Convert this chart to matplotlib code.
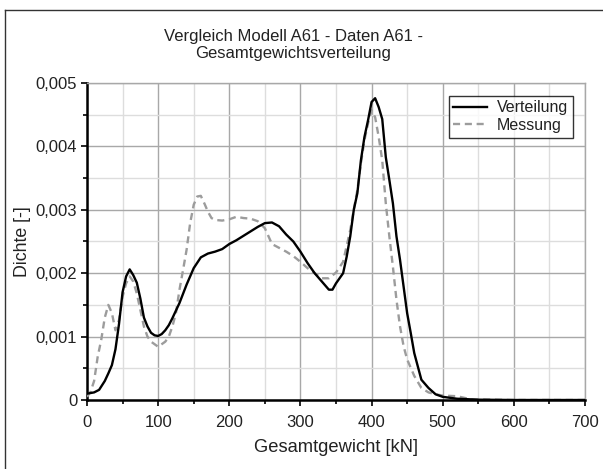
import matplotlib
matplotlib.use("Agg")
import matplotlib.pyplot as plt
from matplotlib.lines import Line2D
from matplotlib.ticker import FuncFormatter, MultipleLocator

plt.rcParams["font.family"] = ["Liberation Sans", "DejaVu Sans"]

# Verteilung (model)
vert_x = [0, 10, 17, 25, 30, 35, 40, 45, 50, 55, 60, 65, 70, 75, 80, 85, 90, 95,
          100, 105, 110, 115, 120, 130, 140, 150, 160, 170, 180, 190, 200, 210,
          220, 230, 240, 250, 260, 270, 280, 290, 300, 310, 320, 330, 340, 345,
          350, 360, 365, 370, 375, 380, 385, 390, 395, 400, 405, 410, 415, 420,
          425, 430, 435, 440, 445, 450, 455, 460, 465, 470, 480, 490, 500, 520,
          550, 600, 700]
vert_y = [0.0001, 0.00012, 0.00016, 0.0003, 0.00042, 0.00055, 0.0008, 0.0012,
          0.0017, 0.00195, 0.00206, 0.00197, 0.00185, 0.0016, 0.0013, 0.00116,
          0.00106, 0.00102, 0.00101, 0.00104, 0.0011, 0.00118, 0.00129, 0.00153,
          0.00182, 0.00208, 0.00225, 0.00231, 0.00234, 0.00238, 0.00246, 0.00252,
          0.00259, 0.00266, 0.00273, 0.00279, 0.0028, 0.00274, 0.00261, 0.0025,
          0.00234, 0.00216, 0.002, 0.00187, 0.00174, 0.00174, 0.00184, 0.002,
          0.00226, 0.00258, 0.003, 0.00326, 0.00378, 0.00415, 0.00441, 0.0047,
          0.00476, 0.00462, 0.00443, 0.00383, 0.00347, 0.0031, 0.00258, 0.00221,
          0.00179, 0.00137, 0.00106, 0.00074, 0.00053, 0.00032, 0.00019, 0.00009,
          0.00005, 0.00002, 0.000005, 0.0, 0.0]

# Messung (measured data)
mess_x = [0, 5, 10, 15, 20, 25, 30, 35, 40, 45, 50, 55, 60, 65, 70, 75, 80, 85,
          90, 100, 110, 115, 120, 125, 130, 135, 140, 145, 150, 155, 160, 165,
          170, 175, 180, 190, 200, 210, 220, 230, 240, 250, 260, 270, 280, 290,
          300, 310, 320, 330, 340, 350, 360, 370, 375, 380, 385, 390, 395, 400,
          405, 410, 415, 420, 425, 430, 435, 440, 445, 450, 460, 470, 480, 490,
          500, 520, 540, 600, 700]
mess_y = [0.00005, 0.00013, 0.0003, 0.00068, 0.00095, 0.0013, 0.0015, 0.00137,
          0.0011, 0.00126, 0.00163, 0.00184, 0.00195, 0.00187, 0.00168, 0.00142,
          0.00116, 0.001, 0.00092, 0.00084, 0.00092, 0.001, 0.00116, 0.00137,
          0.00174, 0.00205, 0.00237, 0.00279, 0.00308, 0.00321, 0.00322, 0.0031,
          0.00297, 0.00287, 0.00284, 0.00283, 0.00285, 0.00289, 0.00287, 0.00286,
          0.00282, 0.00271, 0.00246, 0.0024, 0.00234, 0.00227, 0.00218, 0.00208,
          0.002, 0.00192, 0.00192, 0.00201, 0.00218, 0.00268, 0.003, 0.00331,
          0.00373, 0.0041, 0.00436, 0.00457, 0.00446, 0.00415, 0.00378, 0.0031,
          0.00258, 0.0021, 0.00158, 0.00116, 0.00085, 0.00064, 0.00038, 0.00019,
          0.00012, 0.00009, 0.00007, 0.00006, 0.00001, 0.0, 0.0]

title = "Vergleich Modell A61 - Daten A61 -\nGesamtgewichtsverteilung"
xlabel = "Gesamtgewicht [kN]"
ylabel = "Dichte [-]"

fig = plt.figure(figsize=(6.03, 4.69), dpi=100)
ax = fig.add_axes([87 / 603, 69 / 469, 498 / 603, 317 / 469])

ax.plot(vert_x, vert_y, color="black", lw=1.7, label="Verteilung", zorder=4)
ax.plot(mess_x, mess_y, color="#9c9c9c", lw=1.7, ls=(0, (3, 2)),
        label="Messung", zorder=3)

ax.set_xlim(0, 700)
ax.set_ylim(0, 0.005)
ax.xaxis.set_major_locator(MultipleLocator(100))
ax.xaxis.set_minor_locator(MultipleLocator(50))
ax.yaxis.set_major_locator(MultipleLocator(0.001))
ax.yaxis.set_minor_locator(MultipleLocator(0.0005))
ax.yaxis.set_major_formatter(
    FuncFormatter(lambda v, _: "0" if abs(v) < 1e-12 else f"{v:.3f}".replace(".", ",")))

ax.grid(True, which="major", color="#a8a8a8", lw=1.0)
ax.grid(True, which="minor", color="#dddddd", lw=1.0)
ax.set_axisbelow(True)

for side in ("top", "right"):
    ax.spines[side].set_color("#a8a8a8")
    ax.spines[side].set_linewidth(1.0)
for side in ("left", "bottom"):
    ax.spines[side].set_color("black")
    ax.spines[side].set_linewidth(1.8)

ax.tick_params(which="major", direction="out", length=4, width=1.2,
               labelsize=12, colors="black")
ax.tick_params(which="minor", direction="out", length=3, width=1.2)
ax.tick_params(axis="x", labelcolor="#222222", pad=7)
ax.tick_params(axis="y", labelcolor="#222222", pad=3)

ax.set_xlabel(xlabel, fontsize=13.2, color="#222222", labelpad=6)
ax.set_ylabel(ylabel, fontsize=12.8, color="#222222", labelpad=3)

fig.text(293 / 603, 1 - 29 / 469, title, ha="center", va="top",
         fontsize=12, color="#222222", linespacing=1.2)

leg = ax.legend(loc="upper right", bbox_to_anchor=(0.975, 0.96), fontsize=11.5,
                frameon=True, fancybox=False, borderpad=0.3, handlelength=2.1,
                handletextpad=0.6, labelspacing=0.15, borderaxespad=0.0)
leg.get_frame().set_edgecolor("black")
leg.get_frame().set_linewidth(1.0)
for text in leg.get_texts():
    text.set_color("#222222")

# outer frame: only top and left edges are visible
fig.add_artist(Line2D([4.5 / 603, 1.0], [1 - 10 / 469, 1 - 10 / 469],
                      transform=fig.transFigure, color="#333333", lw=1.0))
fig.add_artist(Line2D([4.5 / 603, 4.5 / 603], [0.0, 1 - 10 / 469],
                      transform=fig.transFigure, color="#333333", lw=1.0))

fig.savefig("out.png", dpi=100)
